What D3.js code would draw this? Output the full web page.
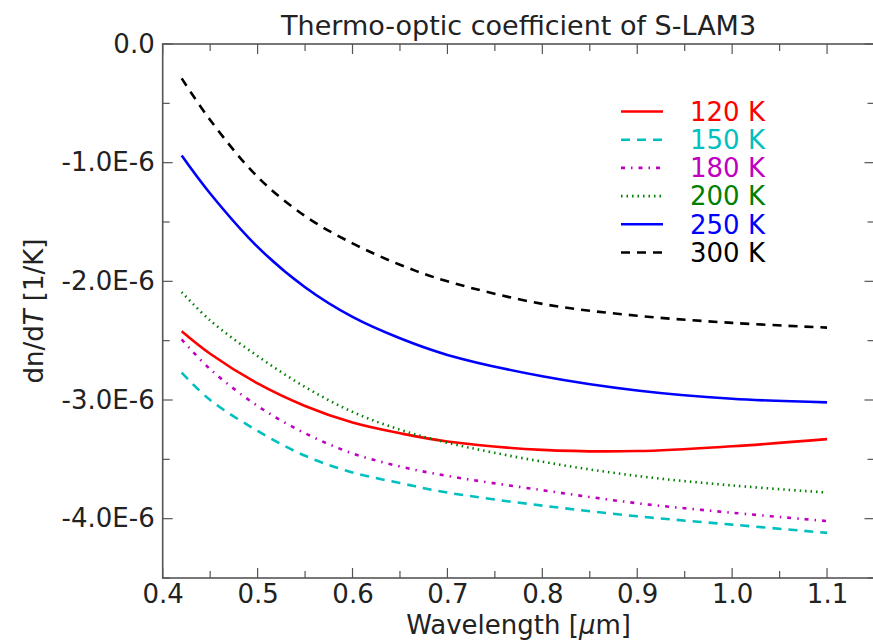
<!DOCTYPE html>
<html>
<head>
<meta charset="utf-8">
<script src="https://cdn.jsdelivr.net/npm/d3@7"></script>
<style>
  html, body { margin: 0; padding: 0; background: #fff; }
  svg { display: block; font-family: "DejaVu Sans", sans-serif; }
</style>
</head>
<body>
<svg id="chart" width="873" height="640"></svg>
<script>
// ---- data (dn/dT in units of 1E-6 per K) ----
const wavelength = [0.42, 0.45, 0.5, 0.55, 0.6, 0.65, 0.7, 0.8, 0.9, 1.0, 1.1];
const t120 = [-2.42, -2.61, -2.86, -3.05, -3.19, -3.28, -3.35, -3.42, -3.43, -3.39, -3.33];
const t150 = [-2.77, -3.00, -3.26, -3.47, -3.61, -3.70, -3.78, -3.89, -3.98, -4.05, -4.12];
const t180 = [-2.49, -2.74, -3.05, -3.28, -3.45, -3.56, -3.64, -3.76, -3.87, -3.95, -4.02];
const t200 = [-2.09, -2.33, -2.63, -2.89, -3.10, -3.25, -3.36, -3.52, -3.64, -3.72, -3.78];
const t250 = [-0.94, -1.26, -1.71, -2.05, -2.30, -2.48, -2.62, -2.80, -2.92, -2.99, -3.02];
const t300 = [-0.29, -0.64, -1.12, -1.45, -1.68, -1.86, -2.00, -2.19, -2.29, -2.35, -2.39];
const seriesLabels = ["120 K", "150 K", "180 K", "200 K", "250 K", "300 K"];
const xTicks = [0.4, 0.5, 0.6, 0.7, 0.8, 0.9, 1.0, 1.1];
const yTicks = [0, -1e-6, -2e-6, -3e-6, -4e-6];
const unit = 1e-6;

const seriesValues = [t120, t150, t180, t200, t250, t300];
const styles = [
  { color: "#ff0000", dash: null },
  { color: "#00bfbf", dash: "9,7" },
  { color: "#bf00bf", dash: "4,6,1.5,6" },
  { color: "#008000", dash: "1.5,4" },
  { color: "#0000ff", dash: null },
  { color: "#000000", dash: "9,7" }
];

const svg = d3.select("#chart");
const L = 162.7, R = 874.5, T = 44, B = 578;

const x = d3.scaleLinear().domain([0.4, 1.15]).range([L, R]);
const y = d3.scaleLinear().domain([-4.5e-6, 0]).range([B, T]);

const axisColor = "#555";
const textColor = "#222";
const fs = 26;

// minor + major ticks (inward, on all four sides)
const xMinor = d3.range(0.45, 1.15, 0.1).map(v => +v.toFixed(2));
const yMinor = d3.range(-0.5e-6, -4.6e-6, -1e-6);

function tickLines(g, vals, scale, orient, len) {
  vals.forEach(v => {
    const p = scale(v);
    if (orient === "x") {
      g.append("line").attr("x1", p).attr("x2", p).attr("y1", B).attr("y2", B - len);
      g.append("line").attr("x1", p).attr("x2", p).attr("y1", T).attr("y2", T + len);
    } else {
      g.append("line").attr("y1", p).attr("y2", p).attr("x1", L).attr("x2", L + len);
      g.append("line").attr("y1", p).attr("y2", p).attr("x1", R).attr("x2", R - len);
    }
  });
}
const tg = svg.append("g").attr("stroke", axisColor).attr("stroke-width", 1.2);
tickLines(tg, xTicks, x, "x", 10);
tickLines(tg, xMinor, x, "x", 7);
tickLines(tg, yTicks, y, "y", 10);
tickLines(tg, yMinor, y, "y", 7);

// tick labels via d3 axes (tick lines drawn above)
const xAxis = d3.axisBottom(x).tickValues(xTicks).tickFormat(d3.format(".1f")).tickSize(0).tickPadding(7);
const gx = svg.append("g").attr("transform", `translate(0,${B})`).call(xAxis);
gx.select(".domain").remove();
gx.selectAll("text").attr("font-size", fs).attr("fill", textColor).attr("font-family", "DejaVu Sans");

const yAxis = d3.axisLeft(y).tickValues(yTicks)
  .tickFormat(d => d === 0 ? "0.0" : (d / unit).toFixed(1) + "E-6").tickSize(0).tickPadding(8);
const gy = svg.append("g").attr("transform", `translate(${L},0)`).call(yAxis);
gy.select(".domain").remove();
gy.selectAll("text").attr("font-size", fs).attr("fill", textColor).attr("font-family", "DejaVu Sans");

// curves
const line = d3.line()
  .x((d, i) => x(wavelength[i]))
  .y(d => y(d * unit))
  .curve(d3.curveCatmullRom.alpha(0.5));

seriesValues.forEach((vals, i) => {
  svg.append("path")
    .attr("d", line(vals))
    .attr("fill", "none")
    .attr("stroke", styles[i].color)
    .attr("stroke-width", 2.6)
    .attr("stroke-dasharray", styles[i].dash);
});

// spines
svg.append("rect").attr("x", L).attr("y", T).attr("width", R - L).attr("height", B - T)
  .attr("fill", "none").attr("stroke", axisColor).attr("stroke-width", 1.6);

// title
svg.append("text").attr("x", (L + R) / 2).attr("y", 35).attr("text-anchor", "middle")
  .attr("font-size", 27).attr("fill", textColor).text("Thermo-optic coefficient of S-LAM3");

// x label
const xl = svg.append("text").attr("x", (L + R) / 2).attr("y", 634).attr("text-anchor", "middle")
  .attr("font-size", fs).attr("fill", textColor);
xl.append("tspan").text("Wavelength [");
xl.append("tspan").attr("font-style", "italic").text("μ");
xl.append("tspan").text("m]");

// y label
const yl = svg.append("text").attr("transform", `translate(43,${(T + B) / 2}) rotate(-90)`)
  .attr("text-anchor", "middle").attr("font-size", fs).attr("fill", textColor);
yl.append("tspan").text("dn/d");
yl.append("tspan").attr("font-style", "italic").text("T");
yl.append("tspan").text(" [1/K]");

// legend
const lg = svg.append("g");
seriesLabels.forEach((lab, i) => {
  const ly = 111.5 + i * 28.2;
  lg.append("line").attr("x1", 621).attr("x2", 663).attr("y1", ly).attr("y2", ly)
    .attr("stroke", styles[i].color).attr("stroke-width", 2.6)
    .attr("stroke-dasharray", styles[i].dash);
  lg.append("text").attr("x", 690).attr("y", ly).attr("dy", "0.36em")
    .attr("font-size", fs).attr("fill", styles[i].color).text(lab);
});
</script>
</body>
</html>
